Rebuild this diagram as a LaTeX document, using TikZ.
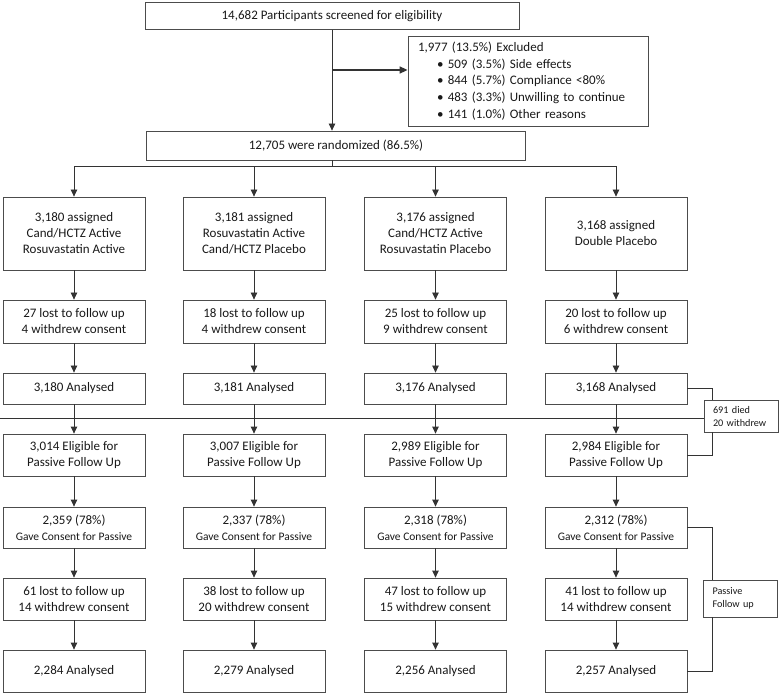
\documentclass[tikz,border=0pt]{standalone}
\usepackage{fontspec}
\setmainfont{Carlito}
\usetikzlibrary{arrows.meta}
\newcommand{\gavecons}{{\fontsize{11.5}{14}\selectfont Gave Consent for Passive}}

\begin{document}
\begin{tikzpicture}[x=1pt, y=-1pt,
    box/.style={draw=black!70, line width=0.8pt, fill=white, align=center, inner sep=0pt, text=black!90, font=\fontsize{13}{16}\selectfont},
    col/.style={box, minimum width=142pt},
    note/.style={box, align=left, inner xsep=9pt, text width=56pt, font=\fontsize{10.2}{13}\selectfont},
    ln/.style={draw=black!80, line width=0.8pt},
    arr/.style={ln, -{Triangle[length=7pt,width=6.5pt]}}]
  \useasboundingbox (0,0) rectangle (780,695);
  \def\xa{74} \def\xb{254} \def\xc{435.5} \def\xd{616}
  % screening and randomisation
  \node[box, minimum width=374pt, minimum height=27pt] (screen) at (332,16) {14,682 Participants screened for eligibility};
  \node[box, align=left, text width=220pt, inner xsep=10pt, minimum height=90pt, font=\fontsize{13}{16.7}\selectfont] (excl) at (528,81)
    {1,977 (13.5\%) Excluded\\
     \hspace{19pt}\textbullet\ 509 (3.5\%) Side effects\\
     \hspace{19pt}\textbullet\ 844 (5.7\%) Compliance <80\%\\
     \hspace{19pt}\textbullet\ 483 (3.3\%) Unwilling to continue\\
     \hspace{19pt}\textbullet\ 141 (1.0\%) Other reasons};
  \node[box, minimum width=379pt, minimum height=29pt] (rand) at (336,145.5) {12,705 were randomized (86.5\%)};
  \draw[arr] (screen) -- (screen.south |- rand.north);
  \coordinate (fork) at (332,70);
  \draw[ln, line width=1.6pt, -{Triangle[length=8pt,width=7pt]}] (fork) -- (fork -| excl.west);

  % four arms
  \node[col, minimum height=73pt] (as1) at (\xa,233.5) {3,180 assigned\\Cand/HCTZ Active\\Rosuvastatin Active};
  \node[col, minimum height=73pt] (as2) at (\xb,233.5) {3,181 assigned\\Rosuvastatin Active\\Cand/HCTZ Placebo};
  \node[col, minimum height=73pt] (as3) at (\xc,233.5) {3,176 assigned\\Cand/HCTZ Active\\Rosuvastatin Placebo};
  \node[col, minimum height=73pt] (as4) at (\xd,233.5) {3,168 assigned\\Double Placebo};

  \node[col, minimum height=43pt] (lf1) at (\xa,321.5) {27 lost to follow up\\4 withdrew consent};
  \node[col, minimum height=43pt] (lf2) at (\xb,321.5) {18 lost to follow up\\4 withdrew consent};
  \node[col, minimum height=43pt] (lf3) at (\xc,321.5) {25 lost to follow up\\9 withdrew consent};
  \node[col, minimum height=43pt] (lf4) at (\xd,321.5) {20 lost to follow up\\6 withdrew consent};

  \node[col, minimum height=31pt] (an1) at (\xa,388.5) {3,180 Analysed};
  \node[col, minimum height=31pt] (an2) at (\xb,388.5) {3,181 Analysed};
  \node[col, minimum height=31pt] (an3) at (\xc,388.5) {3,176 Analysed};
  \node[col, minimum height=31pt] (an4) at (\xd,388.5) {3,168 Analysed};

  % passive follow up
  \node[col, minimum height=42pt] (el1) at (\xa,455) {3,014 Eligible for\\Passive Follow Up};
  \node[col, minimum height=42pt] (el2) at (\xb,455) {3,007 Eligible for\\Passive Follow Up};
  \node[col, minimum height=42pt] (el3) at (\xc,455) {2,989 Eligible for\\Passive Follow Up};
  \node[col, minimum height=42pt] (el4) at (\xd,455) {2,984 Eligible for\\Passive Follow Up};

  \node[col, minimum height=41pt] (gc1) at (\xa,527.5) {2,359 (78\%)\\\gavecons};
  \node[col, minimum height=41pt] (gc2) at (\xb,527.5) {2,337 (78\%)\\\gavecons};
  \node[col, minimum height=41pt] (gc3) at (\xc,527.5) {2,318 (78\%)\\\gavecons};
  \node[col, minimum height=41pt] (gc4) at (\xd,527.5) {2,312 (78\%)\\\gavecons};

  \node[col, minimum height=42pt] (lp1) at (\xa,599) {61 lost to follow up\\14 withdrew consent};
  \node[col, minimum height=42pt] (lp2) at (\xb,599) {38 lost to follow up\\20 withdrew consent};
  \node[col, minimum height=42pt] (lp3) at (\xc,599) {47 lost to follow up\\15 withdrew consent};
  \node[col, minimum height=42pt] (lp4) at (\xd,599) {41 lost to follow up\\14 withdrew consent};

  \node[col, minimum height=42pt] (fa1) at (\xa,671) {2,284 Analysed};
  \node[col, minimum height=42pt] (fa2) at (\xb,671) {2,279 Analysed};
  \node[col, minimum height=42pt] (fa3) at (\xc,671) {2,256 Analysed};
  \node[col, minimum height=42pt] (fa4) at (\xd,671) {2,257 Analysed};

  \node[note, minimum height=32pt] (died) at (741,416) {691 died\\20 withdrew};
  \node[note, minimum height=37pt] (pfu) at (740.5,598.5) {Passive\\Follow up};

  \draw[ln] (screen.south |- rand.south) -- ++(0,6) coordinate (split);
  \draw[ln] (split -| as1.north) -- (split -| as4.north);
  \foreach \i in {1,...,4} {
    \draw[arr] (split -| as\i.north) -- (as\i.north);
    \draw[arr] (as\i) -- (lf\i);
    \draw[arr] (lf\i) -- (an\i);
    \draw[arr] (an\i) -- (el\i);
    \draw[arr] (el\i) -- (gc\i);
    \draw[arr] (gc\i) -- (lp\i);
    \draw[arr] (lp\i) -- (fa\i);
  }
  \coordinate (cut) at (0,418);
  \draw[ln] (cut) -- (cut -| died.west);
  \draw[ln] (an4.east) -- ++(25,0) coordinate (bk1) -- (bk1 |- died.north);
  \draw[ln] (bk1 |- died.south) |- (el4.east);
  \draw[ln] (gc4.east) -- ++(25,0) coordinate (bk2) -- (bk2 |- pfu.north);
  \draw[ln] (bk2 |- pfu.south) |- (fa4.east);
\end{tikzpicture}
\end{document}
